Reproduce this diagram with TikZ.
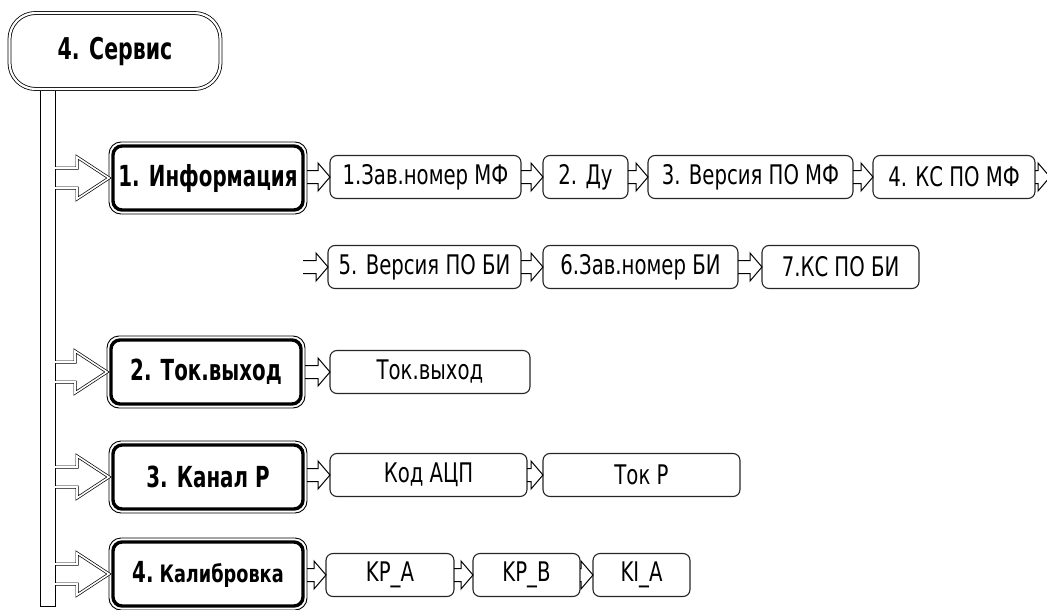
\documentclass[tikz,border=0pt]{standalone}
\usepackage{fontspec}
\setmainfont{DejaVu Sans Condensed}
\usetikzlibrary{calc}
\newcommand\bt[1]{\scalebox{0.76}[1]{\fontsize{29}{33}\selectfont\bfseries #1}}
\newcommand\bttop[1]{\scalebox{0.76}[1]{\fontsize{30}{34}\selectfont\bfseries #1}}
\newcommand\btsmall[1]{\scalebox{0.82}[1]{\fontsize{24}{28}\selectfont\bfseries #1}}
\newcommand\rt[1]{\scalebox{0.81}[1]{\fontsize{27}{31}\selectfont #1}}
\newcommand\bigarr[2]{\draw[bigarrow] let \p1=(#1), \p2=(#2) in
  (\x1,\y2+10pt) -- (\x2-36pt,\y2+10pt) -- (\x2-36pt,\y2+21pt) -- (\x2-4pt,\y2)
  -- (\x2-36pt,\y2-21pt) -- (\x2-36pt,\y2-10pt) -- (\x1,\y2-10pt);}
\newcommand\smarr[2]{\draw[smallarrow] let \p1=(#1), \p2=(#2) in
  (\x1,\y2+6.5pt) -- (\x2-12pt,\y2+6.5pt) -- (\x2-12pt,\y2+14pt) -- (\x2,\y2)
  -- (\x2-12pt,\y2-14pt) -- (\x2-12pt,\y2-6.5pt) -- (\x1,\y2-6.5pt);}
\begin{document}
\begin{tikzpicture}[x=1pt,y=-1pt,
  mainbox/.style={draw, line width=3.4pt, rounded corners=9pt, minimum width=190pt,
    minimum height=64pt, inner sep=0pt, outer sep=0pt, fill=white},
  smallbox/.style={draw=black!85, line width=1.1pt, rounded corners=7pt,
    minimum height=43pt, inner sep=0pt, outer sep=0pt},
  bigarrow/.style={draw, line width=0.7pt, double, double distance=1.6pt, line join=miter},
  smallarrow/.style={draw, line width=1pt, line join=miter},
  frame/.style={draw, line width=0.9pt, rounded corners=12pt}]
\useasboundingbox (0,0) rectangle (1047,610);
\clip (0,0) rectangle (1047,610);
% trunk
\node[draw, line width=1pt, minimum width=15pt, minimum height=516pt, inner sep=0pt, outer sep=0pt] (bar) at (47.5,348) {};
\node[draw, line width=0.8pt, double, double distance=2.2pt, rounded corners=26pt,
  minimum width=211pt, minimum height=76pt, inner sep=0pt, fill=white] (top) at (115,51) {\bttop{4. Сервис}};
% main boxes
\node[mainbox] (m1) at (208,178) {\bt{1. Информация}};
\node[mainbox] (m2) at (206,372) {\bt{2. Ток.выход}};
\node[mainbox] (m3) at (208,477) {\bt{3. Канал Р}};
\node[mainbox] (m4) at (208,574) {\bt{4.}\hspace{6pt}\btsmall{Калибровка}};
\foreach \n in {m1,m2,m3,m4}
  \draw[frame] ([shift={(-4pt,4pt)}]\n.north west) rectangle ([shift={(4pt,-4pt)}]\n.south east);
% row 1
\node[smallbox, minimum width=191pt] (a1) at (425.5,177) {\rt{1.Зав.номер МФ}};
\node[smallbox, minimum width=85pt]  (a2) at (585.5,177) {\rt{2. Ду}};
\node[smallbox, minimum width=205pt] (a3) at (750.5,177) {\rt{3. Версия ПО МФ}};
\node[smallbox, minimum width=162pt] (a4) at (954,177) {\rt{4. КС ПО МФ}};
\coordinate (offr) at (1050,177);
% row 2
\coordinate (r2s) at (303,267);
\node[smallbox, minimum width=193pt] (b1) at (424.5,267) {\rt{5. Версия ПО БИ}};
\node[smallbox, minimum width=195pt] (b2) at (640.5,267) {\rt{6.Зав.номер БИ}};
\node[smallbox, minimum width=157pt] (b3) at (840.5,267) {\rt{7.КС ПО БИ}};
% row 3
\node[smallbox, minimum width=200pt] (c1) at (430,372) {\rt{Ток.выход}};
% row 4
\node[smallbox, minimum width=197pt] (d1) at (428.5,475) {\rt{Код АЦП}};
\node[smallbox, minimum width=197pt] (d2) at (641.5,475) {\rt{Ток Р}};
% row 5
\node[smallbox, minimum width=128pt] (k1) at (390,575) {\rt{KP\_A}};
\node[smallbox, minimum width=107pt] (k2) at (526.5,575) {\rt{KP\_B}};
\node[smallbox, minimum width=97pt]  (k3) at (641.5,575) {\rt{KI\_A}};
% big arrows
\bigarr{bar.east}{m1.west}
\bigarr{bar.east}{m2.west}
\bigarr{bar.east}{m3.west}
\bigarr{bar.east}{m4.west}
% small arrows
\smarr{$(m1.east)+(4pt,0)$}{a1.west}
\smarr{a1.east}{a2.west}
\smarr{a2.east}{a3.west}
\smarr{a3.east}{a4.west}
\smarr{a4.east}{offr}
\smarr{r2s}{b1.west}
\smarr{b1.east}{b2.west}
\smarr{b2.east}{b3.west}
\smarr{$(m2.east)+(4pt,0)$}{c1.west}
\smarr{$(m3.east)+(4pt,0)$}{d1.west}
\smarr{d1.east}{d2.west}
\smarr{$(m4.east)+(4pt,0)$}{k1.west}
\smarr{k1.east}{k2.west}
\smarr{k2.east}{k3.west}
\end{tikzpicture}
\end{document}
